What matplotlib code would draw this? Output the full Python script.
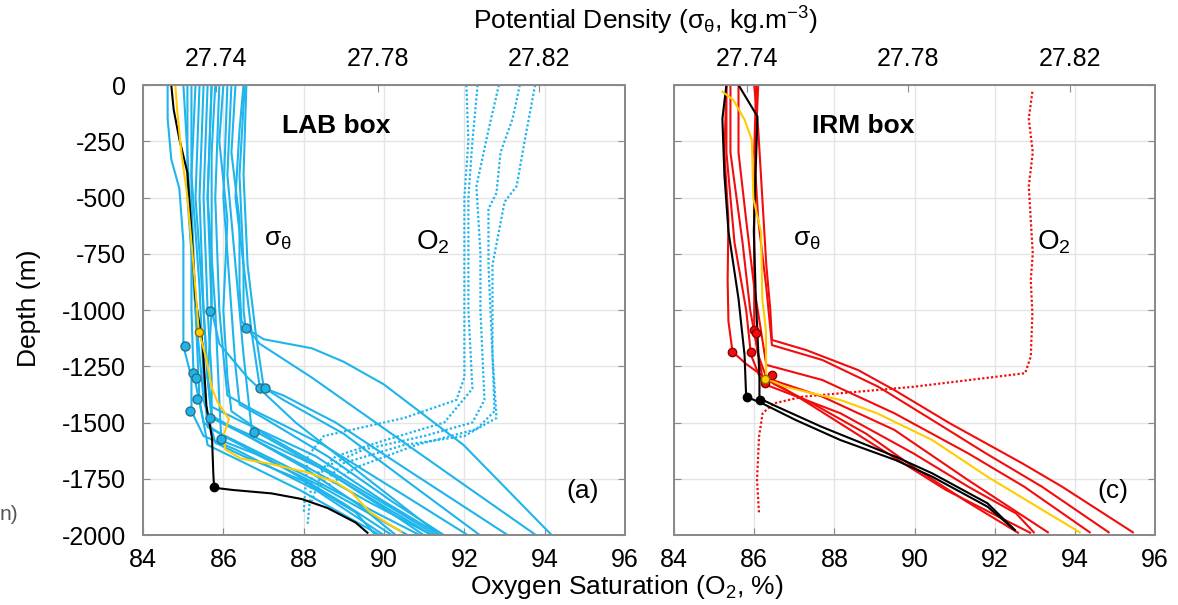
import numpy as np
import matplotlib
matplotlib.use("Agg")
import matplotlib.pyplot as plt

plt.rcParams['font.family'] = ['Liberation Sans', 'DejaVu Sans']
plt.rcParams['mathtext.fontset'] = 'custom'
plt.rcParams['mathtext.rm'] = 'Liberation Sans'
plt.rcParams['mathtext.it'] = 'Liberation Sans'
plt.rcParams['mathtext.bf'] = 'Liberation Sans:bold'
plt.rcParams['axes.unicode_minus'] = False

# ---------------- data ----------------
o2_ticks = [84, 86, 88, 90, 92, 94, 96]
depth_ticks = [-2000, -1750, -1500, -1250, -1000, -750, -500, -250, 0]
sig_ticks = [27.74, 27.78, 27.82]
sig_lim = (27.7218, 27.8412)

# LAB box: sigma-theta profiles (cyan)
lab_sig_z = [
    [0, -200, -500, -800, -1000, -1080, -1130, -1170, -1230, -1330, -1600, -2000],
    [0, -300, -600, -900, -1050, -1150, -1300, -1500, -1750, -2000],
    [0, -400, -800, -1100, -1340, -1380, -1500, -1700, -2000],
    [0, -400, -800, -1100, -1345, -1400, -1550, -1750, -2000],
    [0, -500, -1000, -1200, -1380, -1450, -1600, -1800, -2000],
    [0, -500, -1000, -1300, -1430, -1500, -1650, -1850, -2000],
    [0, -500, -1000, -1300, -1480, -1550, -1700, -1850, -2000],
    [0, -400, -900, -1300, -1520, -1600, -1750, -1900, -2000],
    [0, -500, -1000, -1400, -1580, -1640, -1780, -1900, -2000],
    [0, -500, -1000, -1300, -1470, -1540, -1700, -1870, -2000],
    [0, -400, -800, -1200, -1530, -1580, -1720, -1880, -2000],
    [0, -500, -1000, -1400, -1600, -1660, -1800, -1920, -2000],
    [0, -150, -330, -460, -700, -1000, -1160, -1300, -1450, -1560, -1620, -1800, -2000],
    [0, -300, -700, -1000, -1280, -1500, -1560, -1700, -1860, -2000],
    [0, -300, -700, -1000, -1300, -1480, -1560, -1700, -1850, -2000],
    [0, -250, -600, -1000, -1300, -1450, -1550, -1700, -1880, -2000],
    [0, -500, -1000, -1400, -1590, -1650, -1760, -1900, -2000],
    [0, -500, -1000, -1150, -1300, -1500, -1750, -2000],
    [0, -500, -1000, -1250, -1420, -1480, -1650, -1850, -2000],
]
lab_sig = [
    [27.7467, 27.7457, 27.7447, 27.7467, 27.7467, 27.7472, 27.7517, 27.7636, 27.7715, 27.7814, 27.8012, 27.8230],
    [27.7447, 27.7437, 27.7457, 27.7457, 27.7462, 27.7507, 27.7636, 27.7794, 27.7992, 27.8191],
    [27.7470, 27.7457, 27.7467, 27.7487, 27.7507, 27.7566, 27.7695, 27.7864, 27.8121],
    [27.7474, 27.7467, 27.7477, 27.7497, 27.7517, 27.7566, 27.7715, 27.7864, 27.8052],
    [27.7407, 27.7397, 27.7407, 27.7417, 27.7427, 27.7497, 27.7665, 27.7844, 27.8022],
    [27.7368, 27.7358, 27.7368, 27.7378, 27.7388, 27.7467, 27.7646, 27.7814, 27.7953],
    [27.7378, 27.7368, 27.7378, 27.7388, 27.7388, 27.7477, 27.7655, 27.7794, 27.7933],
    [27.7348, 27.7338, 27.7358, 27.7368, 27.7378, 27.7467, 27.7636, 27.7794, 27.7903],
    [27.7388, 27.7378, 27.7397, 27.7407, 27.7412, 27.7497, 27.7655, 27.7774, 27.7873],
    [27.7358, 27.7348, 27.7368, 27.7378, 27.7388, 27.7457, 27.7616, 27.7755, 27.7844],
    [27.7437, 27.7427, 27.7447, 27.7467, 27.7487, 27.7537, 27.7675, 27.7814, 27.7913],
    [27.7338, 27.7338, 27.7348, 27.7358, 27.7378, 27.7447, 27.7606, 27.7725, 27.7804],
    [27.7279, 27.7279, 27.7288, 27.7308, 27.7318, 27.7318, 27.7318, 27.7338, 27.7338, 27.7368, 27.7447, 27.7646, 27.7814],
    [27.7318, 27.7328, 27.7338, 27.7338, 27.7343, 27.7368, 27.7417, 27.7566, 27.7715, 27.7834],
    [27.7397, 27.7388, 27.7388, 27.7388, 27.7378, 27.7388, 27.7477, 27.7626, 27.7774, 27.7933],
    [27.7417, 27.7407, 27.7427, 27.7417, 27.7427, 27.7437, 27.7517, 27.7665, 27.7834, 27.7943],
    [27.7328, 27.7328, 27.7348, 27.7368, 27.7397, 27.7467, 27.7616, 27.7745, 27.7794],
    [27.7388, 27.7378, 27.7388, 27.7407, 27.7477, 27.7596, 27.7774, 27.7953],
    [27.7427, 27.7417, 27.7437, 27.7447, 27.7457, 27.7517, 27.7675, 27.7834, 27.7963],
]
lab_black_z = [0, -110, -240, -390, -650, -950, -1160, -1425, -1570, -1720, -1790, -1800, -1815, -1840, -1880, -1945, -1990]
lab_black = [27.7288, 27.7294, 27.7308, 27.7328, 27.7338, 27.7348, 27.7366, 27.7375, 27.7389, 27.7392, 27.7394,
             27.7441, 27.7536, 27.7611, 27.7675, 27.7745, 27.7774]
lab_yellow_z = [0, -120, -300, -500, -800, -1090, -1220, -1350, -1410, -1485, -1560, -1620, -1660, -1685, -1720,
                -1765, -1810, -1900, -1985]
lab_yellow = [27.7298, 27.7303, 27.7313, 27.7328, 27.7343, 27.7356, 27.7375, 27.7389, 27.7403, 27.7431, 27.7417,
              27.7422, 27.7460, 27.7536, 27.7621, 27.7696, 27.7734, 27.7781, 27.7857]
lab_mld_z = [-1003, -1081, -1162, -1280, -1301, -1397, -1449, -1478, -1346, -1346, -1541, -1574]
lab_mld_sig = [27.7385, 27.7472, 27.7321, 27.7342, 27.7349, 27.7351, 27.7334, 27.7385, 27.7507, 27.7521, 27.7493, 27.7412]
lab_mld_yellow = (-1099, 27.7356)
lab_mld_black = (-1787, 27.7394)

# LAB box: oxygen saturation profiles (cyan, dotted)
lab_o2_z = [
    [0, -250, -500, -1000, -1300, -1400, -1480, -1560, -1650, -1900],
    [0, -250, -500, -1000, -1350, -1500, -1580, -1650, -1750, -1950],
    [0, -200, -450, -750, -1000, -1400, -1500, -1560, -1620, -1700, -1850],
    [0, -150, -300, -480, -550, -800, -1200, -1480, -1560, -1600, -1680, -1800],
    [0, -250, -450, -520, -800, -1200, -1450, -1530, -1600, -1700, -1780],
]
lab_o2 = [
    [92.05, 92.1, 92.0, 92.0, 92.0, 91.8, 90.5, 88.5, 88.1, 88.0],
    [92.33, 92.2, 92.1, 92.1, 92.2, 91.5, 90.0, 88.8, 88.2, 88.1],
    [92.86, 92.6, 92.3, 92.4, 92.4, 92.5, 92.2, 91.0, 89.5, 88.5, 88.2],
    [93.38, 93.2, 92.9, 92.8, 92.6, 92.6, 92.7, 92.8, 92.0, 90.5, 89.0, 88.3],
    [93.76, 93.5, 93.3, 93.0, 92.7, 92.7, 92.75, 92.3, 90.8, 89.3, 88.6],
]

# IRM box: sigma-theta profiles (red)
irm_sig_z = [
    [0, -200, -500, -800, -1000, -1133, -1178, -1267, -1356, -1504, -1681, -1785, -1988],
    [0, -300, -600, -900, -1156, -1222, -1341, -1489, -1637, -1785, -1988],
    [0, -300, -600, -900, -1244, -1311, -1459, -1637, -1785, -1988],
    [0, -300, -700, -1000, -1296, -1385, -1533, -1756, -1988],
    [0, -300, -700, -1000, -1200, -1326, -1459, -1637, -1785, -1904, -1988],
    [0, -300, -600, -867, -1050, -1185, -1240, -1330, -1420, -1550, -1700, -1850, -1990],
    [0, -400, -800, -1089, -1200, -1300, -1420, -1600, -1800, -1990],
]
irm_sig = [
    [27.7417, 27.7427, 27.7437, 27.7447, 27.7457, 27.7461, 27.7546, 27.7675, 27.7765, 27.7903, 27.8082, 27.8181, 27.8357],
    [27.7422, 27.7417, 27.7427, 27.7447, 27.7461, 27.7586, 27.7725, 27.7859, 27.7992, 27.8131, 27.8297],
    [27.7378, 27.7378, 27.7397, 27.7417, 27.7447, 27.7586, 27.7765, 27.7948, 27.8087, 27.8250],
    [27.7358, 27.7358, 27.7388, 27.7407, 27.7437, 27.7586, 27.7765, 27.7948, 27.8146],
    [27.7348, 27.7348, 27.7368, 27.7397, 27.7409, 27.7437, 27.7631, 27.7812, 27.7948, 27.8067, 27.8111],
    [27.7348, 27.7343, 27.7353, 27.7351, 27.7353, 27.7363, 27.7397, 27.7467, 27.7566, 27.7695, 27.7814, 27.7943, 27.8072],
    [27.7427, 27.7417, 27.7417, 27.7417, 27.7427, 27.7447, 27.7556, 27.7715, 27.7893, 27.8102],
]
irm_black_z = [
    [0, -150, -400, -650, -950, -1200, -1385, -1415, -1489, -1578, -1667, -1741, -1874, -1978],
    [0, -140, -360, -650, -950, -1296, -1393, -1430, -1519, -1652, -1726, -1859, -1978],
]
irm_black = [
    [27.7348, 27.7338, 27.7343, 27.7353, 27.7378, 27.7393, 27.7397, 27.7437, 27.7520, 27.7631, 27.7768, 27.7859, 27.7996, 27.8064],
    [27.7378, 27.7425, 27.7421, 27.7416, 27.7421, 27.7430, 27.7430, 27.7474, 27.7584, 27.7768, 27.7859, 27.7996, 27.8064],
]
irm_yellow_z = [-30, -66, -154, -243, -507, -654, -949, -1089, -1304, -1341, -1400, -1459, -1578, -1741, -1889, -1988]
irm_yellow = [27.7338, 27.7365, 27.7393, 27.7411, 27.7415, 27.7434, 27.7437, 27.7446, 27.7447, 27.7493, 27.7631,
              27.7722, 27.7859, 27.7996, 27.8133, 27.8225]
irm_mld_z = [-1089, -1100, -1185, -1185, -1326, -1289]
irm_mld_sig = [27.7417, 27.7422, 27.7363, 27.7409, 27.7443, 27.7461]
irm_mld_yellow = (-1308, 27.7445)
irm_mld_black_z = [-1388, -1400]
irm_mld_black_sig = [27.7399, 27.7432]

# IRM box: oxygen saturation profile (red, dotted)
irm_o2_z = [-30, -150, -300, -450, -600, -750, -867, -1015, -1207, -1281, -1311, -1341, -1363, -1385, -1415,
            -1459, -1563, -1756, -1904]
irm_o2 = [92.94, 92.85, 92.95, 92.85, 92.9, 92.95, 92.9, 92.94, 92.9, 92.76, 91.37, 89.99, 88.6, 87.22, 86.49,
          86.21, 86.12, 86.07, 86.12]

CYAN = '#1eb4ec'
RED = '#f20c0c'
YELLOW = '#ffcc00'
GRID = '#e4e4e4'
SPINE = '#8a8a8a'
TFS = 18
LFS = 19
LW = 1.5
DOT = (0, (1, 1))

fig = plt.figure(figsize=(11.78, 6.05), dpi=100)
ax_l = fig.add_axes([0.1214, 0.1157, 0.4092, 0.7438])
ax_r = fig.add_axes([0.5722, 0.1157, 0.4083, 0.7438])


def setup(ax, show_y):
    ax.set_xlim(84, 96)
    ax.set_ylim(-2000, 0)
    ax.set_xticks(o2_ticks)
    ax.set_yticks(depth_ticks)
    ax.grid(True, color=GRID, lw=1.0)
    ax.set_axisbelow(True)
    ax.tick_params(direction='in', length=5, color=SPINE, labelsize=TFS, right=True)
    ax.tick_params(axis='y', pad=12)
    ax.tick_params(axis='x', pad=9)
    if not show_y:
        ax.set_yticklabels([])
    for s in ax.spines.values():
        s.set_color(SPINE)
        s.set_linewidth(1.3)
    top = ax.twiny()
    top.set_xlim(*sig_lim)
    top.set_xticks(sig_ticks)
    top.set_xticklabels(['%.2f' % v for v in sig_ticks])
    top.tick_params(direction='in', length=5, color=SPINE, labelsize=TFS, pad=10)
    for s in top.spines.values():
        s.set_color(SPINE)
        s.set_linewidth(1.3)
    return top


top_l = setup(ax_l, True)
top_r = setup(ax_r, False)

# LAB panel
for z, v in zip(lab_o2_z, lab_o2):
    ax_l.plot(v, z, ls=DOT, color=CYAN, lw=1.6)
for z, v in zip(lab_sig_z, lab_sig):
    top_l.plot(v, z, color=CYAN, lw=LW)
top_l.plot(lab_black, lab_black_z, color='black', lw=LW)
top_l.plot(lab_yellow, lab_yellow_z, color=YELLOW, lw=LW)
top_l.plot(lab_mld_sig, lab_mld_z, 'o', ms=6.5, mfc=CYAN, mec='#2f6f86', mew=1.0)
top_l.plot(lab_mld_yellow[1], lab_mld_yellow[0], 'o', ms=6, mfc=YELLOW, mec='#8a6d00', mew=1.0)
top_l.plot(lab_mld_black[1], lab_mld_black[0], 'o', ms=6, mfc='black', mec='black')

# IRM panel
ax_r.plot(irm_o2, irm_o2_z, ls=DOT, color=RED, lw=1.6)
for z, v in zip(irm_sig_z, irm_sig):
    top_r.plot(v, z, color=RED, lw=LW)
for z, v in zip(irm_black_z, irm_black):
    top_r.plot(v, z, color='black', lw=LW)
top_r.plot(irm_yellow, irm_yellow_z, color=YELLOW, lw=LW)
top_r.plot(irm_mld_sig, irm_mld_z, 'o', ms=6, mfc=RED, mec='#8b0000', mew=1.0)
top_r.plot(irm_mld_yellow[1], irm_mld_yellow[0], 'o', ms=6, mfc=YELLOW, mec='#8a6d00', mew=1.0)
top_r.plot(irm_mld_black_sig, irm_mld_black_z, 'o', ms=6, mfc='black', mec='black')

# annotations
ax_l.text(87.45, -180, 'LAB box', fontsize=LFS, fontweight='bold', va='center', zorder=5)
ax_l.text(87.0, -690, r'σ$_\theta$', fontsize=LFS, va='center', zorder=5)
ax_l.text(90.8, -700, r'O$_2$', fontsize=LFS + 1, va='center', zorder=5)
ax_l.text(94.55, -1805, '(a)', fontsize=LFS, va='center', zorder=5)
ax_r.text(87.45, -180, 'IRM box', fontsize=LFS, fontweight='bold', va='center', zorder=5)
ax_r.text(86.97, -690, r'σ$_\theta$', fontsize=LFS, va='center', zorder=5)
ax_r.text(93.05, -700, r'O$_2$', fontsize=LFS + 1, va='center', zorder=5)
ax_r.text(94.55, -1805, '(c)', fontsize=LFS, va='center', zorder=5)

fig.text(0.548, 0.965, r'Potential Density (σ$_\theta$, kg.m$^{-3}$)', fontsize=LFS, ha='center', va='center')
fig.text(0.532, 0.03, r'Oxygen Saturation (O$_2$, %)', fontsize=LFS, ha='center', va='center')
fig.text(0.025, 0.49, 'Depth (m)', fontsize=LFS, rotation=90, ha='center', va='center')
fig.text(0.0, 0.149, 'n)', fontsize=LFS - 4, color='#555555', ha='left', va='center')

fig.savefig('out.png', dpi=100)
